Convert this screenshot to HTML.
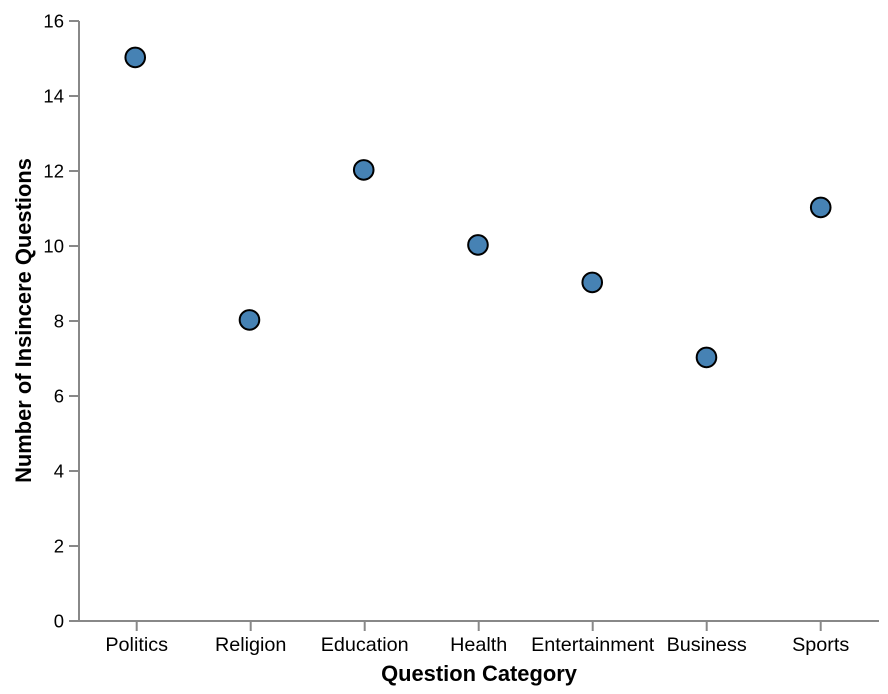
<!DOCTYPE html>
<html>
<head>
<meta charset="utf-8">
<style>
html,body{margin:0;padding:0;background:#fff}
svg{display:block}
text{font-family:"Liberation Sans",Arial,sans-serif;fill:#000}
</style>
</head>
<body>
<svg id="chart" width="888" height="694" viewBox="0 0 888 694" xmlns="http://www.w3.org/2000/svg">
<g id="axes"></g>
<g id="points"></g>
<text x="479" y="681" text-anchor="middle" font-size="22" font-weight="bold" style="font-size:21.9px">Question Category</text>
<text transform="translate(31,320.5) rotate(-90)" text-anchor="middle" font-size="22" font-weight="bold" style="font-size:21.9px">Number of Insincere Questions</text>
</svg>
<script>
const categories = ["Politics","Religion","Education","Health","Entertainment","Business","Sports"];
const values = [15,8,12,10,9,7,11];
const yTicks = [0,2,4,6,8,10,12,14,16];

const NS = "http://www.w3.org/2000/svg";
const left = 79, right = 879, top_ = 21, bottom = 621, yMax = 16;
const bandLeft = 79.7, bandStep = 114;
const pointLeft = 78.1, pointStep = 114.25;
const xScale = i => bandLeft + bandStep * (i + 0.5);
const xPoint = i => pointLeft + pointStep * (i + 0.5);
const yScale = v => bottom - (bottom - top_) * v / yMax;
const axes = document.getElementById("axes");
const points = document.getElementById("points");

function mk(tag, attrs, parent, txt) {
  const el = document.createElementNS(NS, tag);
  for (const k in attrs) el.setAttribute(k, attrs[k]);
  if (txt !== undefined) el.textContent = txt;
  parent.appendChild(el);
  return el;
}
const axisStyle = {stroke:"#888", "stroke-width":2, fill:"none"};

yTicks.forEach(t => {
  const y = yScale(t);
  const tick = mk("line", Object.assign({x1:left-10, x2:left, y1:y, y2:y}, axisStyle), axes);
  
  
  const lab = mk("text", {x:left-15, y:y+6.5, "text-anchor":"end", "font-size":18.5}, axes, t);
  
  
});
categories.forEach((c, i) => {
  const x = xScale(i);
  const tick = mk("line", Object.assign({x1:x, x2:x, y1:bottom, y2:bottom+10}, axisStyle), axes);
  
  
  const lab = mk("text", {x:x, y:651, "text-anchor":"middle", "font-size":19.8}, axes, c);
  
  
});
const yDomain = mk("line", Object.assign({x1:left, x2:left, y1:top_, y2:bottom}, axisStyle), axes);


const xDomain = mk("line", Object.assign({x1:left, x2:right, y1:bottom, y2:bottom}, axisStyle), axes);



values.forEach((v, i) => {
  const c = mk("circle", {cx:xPoint(i), cy:yScale(v)-1.1, r:9.8, fill:"#4682b4", stroke:"#000", "stroke-width":2}, points);
  
  
});
</script>
</body>
</html>
